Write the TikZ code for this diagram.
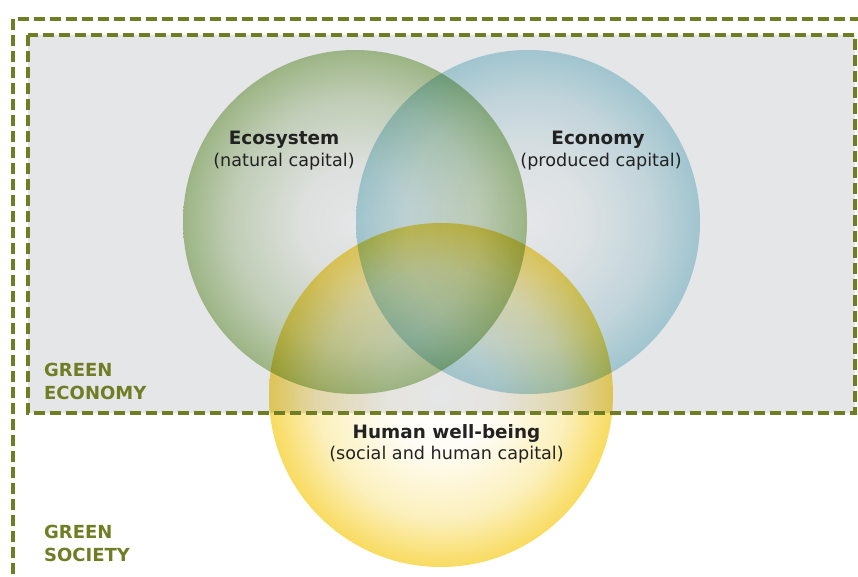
\documentclass[tikz,border=0pt]{standalone}
\usepackage{fontspec}
\setmainfont{DejaVu Sans}
\definecolor{gsolive}{HTML}{717D25}
\definecolor{gsgray}{HTML}{E5E6E8}
\definecolor{gstext}{HTML}{222222}
\definecolor{ecoedge}{HTML}{A4C284}
\definecolor{econedge}{HTML}{A9D6E0}
\definecolor{humedge}{HTML}{F7D64A}
\pgfdeclareradialshading{ecoshade}{\pgfpointorigin}{color(0bp)=(white); color(8bp)=(ecoedge!10!white); color(18bp)=(ecoedge!50!white); color(25bp)=(ecoedge); color(50bp)=(ecoedge)}
\pgfdeclareradialshading{econshade}{\pgfpointorigin}{color(0bp)=(white); color(8bp)=(econedge!10!white); color(18bp)=(econedge!50!white); color(25bp)=(econedge); color(50bp)=(econedge)}
\pgfdeclareradialshading{humshade}{\pgfpointorigin}{color(0bp)=(white); color(8bp)=(humedge!6!white); color(18bp)=(humedge!42!white); color(25bp)=(humedge); color(50bp)=(humedge)}
\tikzset{
  gsdash/.style={draw=gsolive, line width=3.1pt, dash pattern=on 11pt off 5pt},
  circ/.style={blend mode=multiply, fill opacity=0.88},
  titletext/.style={anchor=base, inner sep=0pt, text=gstext, font=\fontsize{18.4}{22}\selectfont\bfseries},
  subtext/.style={anchor=base, inner sep=0pt, text=gstext, font=\fontsize{17.6}{22}\selectfont},
  greentext/.style={anchor=base west, inner sep=0pt, text=gsolive, font=\fontsize{18}{22}\selectfont\bfseries}
}
\begin{document}
\begin{tikzpicture}[x=1pt,y=-1pt]
\useasboundingbox (0,0) rectangle (858,577);
\clip (0,0) rectangle (858,577);
\fill[gsgray] (28,35) rectangle (855,413);
\coordinate (ceco) at (355,222);
\coordinate (cecon) at (528,222);
\coordinate (chum) at (441,395);
\shade[circ, shading=ecoshade] (ceco) circle[radius=172pt];
\shade[circ, shading=econshade] (cecon) circle[radius=172pt];
\shade[circ, shading=humshade] (chum) circle[radius=172pt];
\draw[gsdash] (13,19) rectangle (900,620);
\draw[gsdash] (28,35) rectangle (855,413);
\node[titletext] (ecot) at (284,145) {Ecosystem};
\node[subtext] (ecos) at (284,166.5) {(natural capital)};
\node[titletext] (econt) at (598,145) {Economy};
\node[subtext] (econs) at (601,166.5) {(produced capital)};
\node[titletext] (humt) at (446.5,438) {Human well-being};
\node[subtext] (hums) at (446.5,459.5) {(social and human capital)};
\node[greentext] (ge1) at (44,376) {GREEN};
\node[greentext] (ge2) at (44,399) {ECONOMY};
\node[greentext] (gs1) at (44,538) {GREEN};
\node[greentext] (gs2) at (44,561) {SOCIETY};
\end{tikzpicture}
\end{document}
